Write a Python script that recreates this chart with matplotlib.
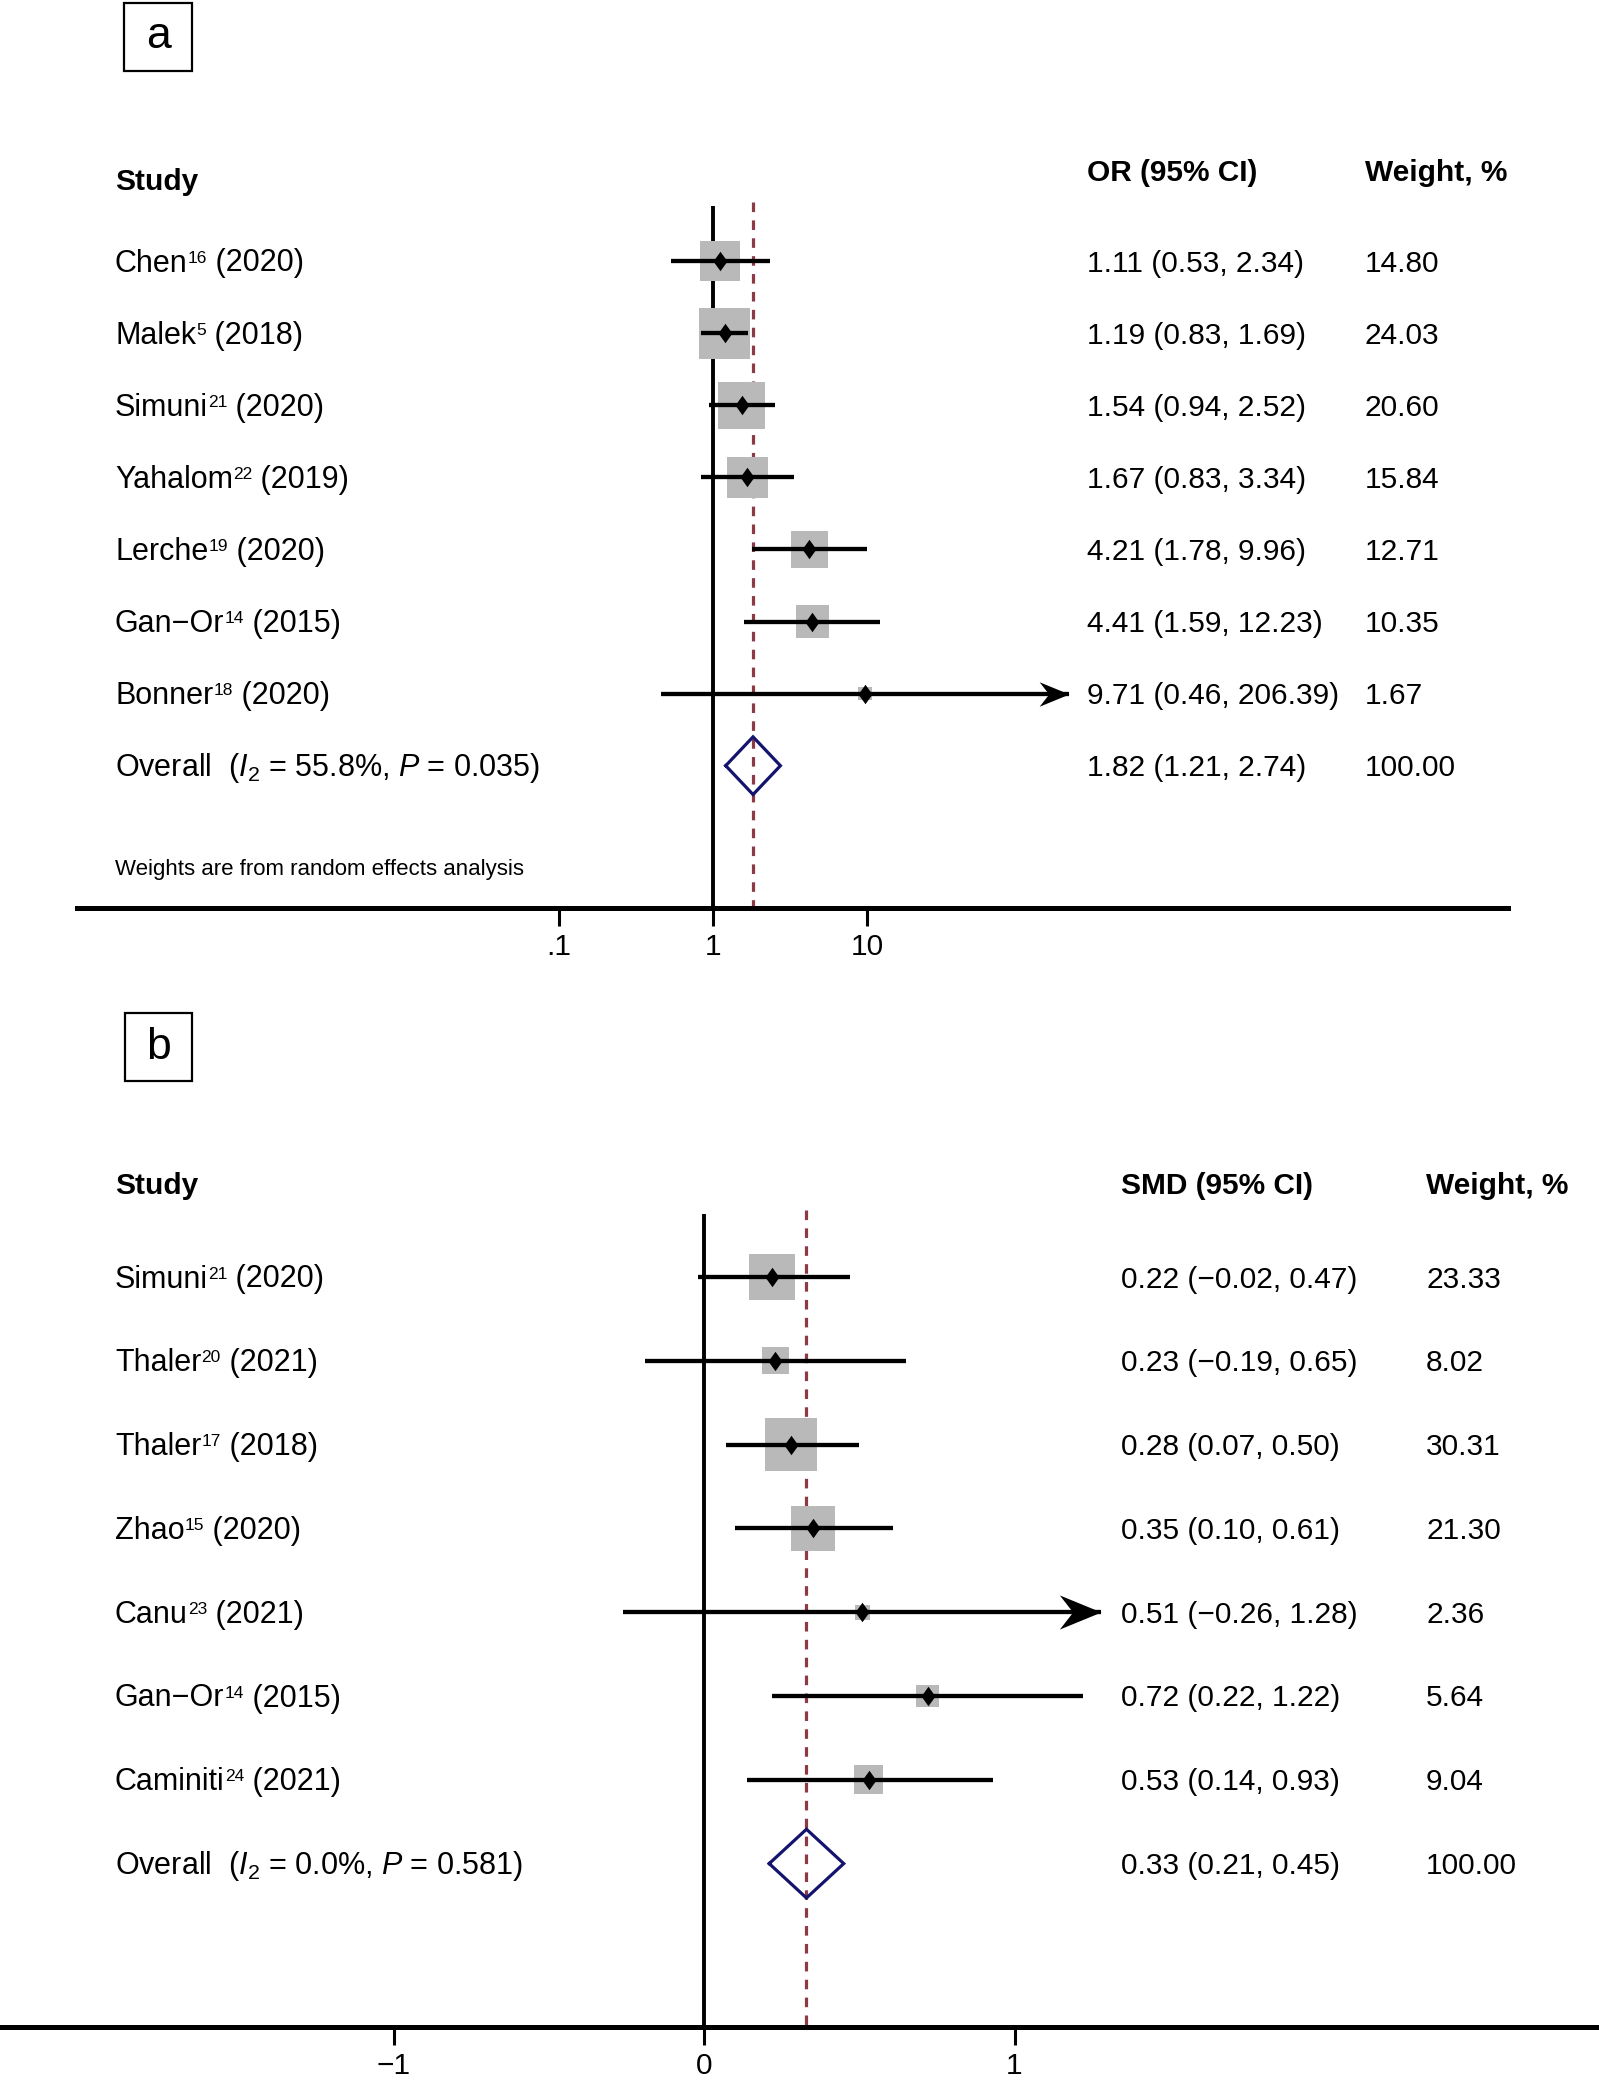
import numpy as np
import matplotlib
matplotlib.use("Agg")
import matplotlib.pyplot as plt
from matplotlib.path import Path
from matplotlib.patches import Rectangle
from matplotlib.ticker import NullLocator

plt.rcParams["font.family"] = ["Liberation Sans", "DejaVu Sans"]
plt.rcParams["mathtext.fontset"] = "custom"
plt.rcParams["mathtext.rm"] = "Liberation Sans"
plt.rcParams["mathtext.it"] = "Liberation Sans:italic"
plt.rcParams["mathtext.bf"] = "Liberation Sans:bold"

# panel a: odds ratios
studies_a = ["Chen", "Malek", "Simuni", "Yahalom", "Lerche", "Gan\u2212Or", "Bonner"]
refs_a = ["16", "5", "21", "22", "19", "14", "18"]
years_a = [2020, 2018, 2020, 2019, 2020, 2015, 2020]
or_a = [1.11, 1.19, 1.54, 1.67, 4.21, 4.41, 9.71]
lo_a = [0.53, 0.83, 0.94, 0.83, 1.78, 1.59, 0.46]
hi_a = [2.34, 1.69, 2.52, 3.34, 9.96, 12.23, 206.39]
weight_a = [14.80, 24.03, 20.60, 15.84, 12.71, 10.35, 1.67]
arrow_a = [False, False, False, False, False, False, True]
overall_a = [1.82, 1.21, 2.74]
i2_a, p_a = 55.8, 0.035

# panel b: standardised mean differences
studies_b = ["Simuni", "Thaler", "Thaler", "Zhao", "Canu", "Gan\u2212Or", "Caminiti"]
refs_b = ["21", "20", "17", "15", "23", "14", "24"]
years_b = [2020, 2021, 2018, 2020, 2021, 2015, 2021]
smd_b = [0.22, 0.23, 0.28, 0.35, 0.51, 0.72, 0.53]
lo_b = [-0.02, -0.19, 0.07, 0.10, -0.26, 0.22, 0.14]
hi_b = [0.47, 0.65, 0.50, 0.61, 1.28, 1.22, 0.93]
weight_b = [23.33, 8.02, 30.31, 21.30, 2.36, 5.64, 9.04]
arrow_b = [False, False, False, False, True, False, False]
overall_b = [0.33, 0.21, 0.45]
i2_b, p_b = 0.0, 0.581

W, H, DPI = 1599, 2080, 100
FS = 21.5
FS_LABEL = 22
SUP = 12.5
SQUARE = "#B9B9B9"
DASH = "#8B3A46"
NAVY = "#14146E"

EST = Path([(0, 1), (0.72, 0), (0, -1), (-0.72, 0), (0, 1)],
           [Path.MOVETO, Path.LINETO, Path.LINETO, Path.LINETO, Path.CLOSEPOLY])
ARROW = Path([(0, 0), (-1, 0.41), (-0.68, 0), (-1, -0.41), (0, 0)],
             [Path.MOVETO, Path.LINETO, Path.LINETO, Path.LINETO, Path.CLOSEPOLY])

fig = plt.figure(figsize=(W / DPI, H / DPI), dpi=DPI)


def num(v):
    return f"{v:.2f}".replace("-", "\u2212")


def study_label(ax, x, y, name, ref, year):
    tr = ax.get_yaxis_transform()
    t = ax.text(x, y, name, transform=tr, fontsize=FS_LABEL, va="center")
    s = ax.annotate(ref, xy=(1, 1), xycoords=t, xytext=(0, -1.5),
                    textcoords="offset points", fontsize=SUP, va="top", ha="left")
    ax.annotate(f" ({year})", xy=(1, 0), xycoords=(s, t), fontsize=FS_LABEL,
                va="bottom", ha="left")


def draw_panel(lay, names, refs, years, est, lo, hi, wt, arrows, overall, i2, p,
               measure, ticks, ticklabels, note=None):
    top, bot, row0, step = lay["top"], lay["bot"], lay["row0"], lay["step"]
    r = lambda ypx: (ypx - row0) / step
    dy = 2.5 / step  # text sits a touch below the row centre

    ax = fig.add_axes([0, 1 - bot / H, 1, (bot - top) / H])
    ax.set_xscale(lay["scale"])
    ax.set_xlim(*lay["xlim"])
    ax.set_ylim(r(bot), r(top))
    ax.patch.set_visible(False)
    for s in ["top", "left", "right"]:
        ax.spines[s].set_visible(False)
    y_axis = r(lay["axis"])
    ax.spines["bottom"].set_position(("data", y_axis))
    ax.spines["bottom"].set_bounds(*lay["bounds"])
    ax.spines["bottom"].set_linewidth(3.6)
    ax.set_yticks([])
    ax.set_xticks(ticks, ticklabels)
    ax.xaxis.set_minor_locator(NullLocator())
    ax.tick_params(axis="x", direction="out", length=13, width=2.2, pad=5, labelsize=FS)

    est, lo, hi, wt = map(np.array, (est, lo, hi, wt))
    arrows = np.array(arrows)
    y = np.arange(len(est))

    ax.vlines(lay["null"], r(lay["vtop"]), y_axis, color="black", lw=2.8, zorder=1)
    ax.vlines(overall[0], r(lay["vtop"]) - 0.05, y_axis, colors=DASH, lw=2.3,
              linestyles=(0, (3, 2.6)), zorder=2)

    side = lay["sq"] * np.sqrt(wt) * 72 / DPI
    ax.scatter(est, y, s=side ** 2, marker="s", c=SQUARE, linewidths=0, zorder=3)
    ax.hlines(y, lo, hi, color="black", lw=3.1, zorder=4)
    ax.plot(est, y, ls="none", marker=EST, ms=14, color="black", mew=0, zorder=5)
    ax.plot(hi[arrows], y[arrows], ls="none", marker=ARROW, ms=lay["arrow"],
            color="black", mew=0, zorder=5)

    yo = len(est)
    h = lay["dh"]
    ax.plot([overall[1], overall[0], overall[2], overall[0], overall[1]],
            [yo, yo - h, yo, yo + h, yo], color=NAVY, lw=2.3, zorder=5,
            solid_joinstyle="miter")

    tr = ax.get_yaxis_transform()
    xl, xc, xw = [c / W for c in lay["cols"]]
    ax.text(xl, r(lay["head_study"]), "Study", transform=tr, fontsize=FS,
            fontweight="bold", va="center")
    ax.text(xc, r(lay["head"]), f"{measure} (95% CI)", transform=tr, fontsize=FS,
            fontweight="bold", va="center")
    ax.text(xw, r(lay["head"]), "Weight, %", transform=tr, fontsize=FS,
            fontweight="bold", va="center")
    for i in range(len(est)):
        study_label(ax, xl, i + dy, names[i], refs[i], years[i])
        ax.text(xc, i + dy, f"{num(est[i])} ({num(lo[i])}, {num(hi[i])})",
                transform=tr, fontsize=FS, va="center")
        ax.text(xw, i + dy, f"{wt[i]:.2f}", transform=tr, fontsize=FS, va="center")
    ax.text(xl, yo + dy, r"Overall  ($\mathit{I}_{\mathrm{2}}$ = " + f"{i2:.1f}%, "
            + r"$\mathit{P}$ = " + f"{p:.3f})", transform=tr, fontsize=FS_LABEL,
            va="center")
    ax.text(xc, yo + dy, f"{num(overall[0])} ({num(overall[1])}, {num(overall[2])})",
            transform=tr, fontsize=FS, va="center")
    ax.text(xw, yo + dy, f"{100:.2f}", transform=tr, fontsize=FS, va="center")
    if note:
        ax.text(xl, r(lay["note"]), note, transform=tr, fontsize=16, va="center")

    bx0, by0, bx1, by1 = lay["box"]
    fig.add_artist(Rectangle((bx0 / W, 1 - by1 / H), (bx1 - bx0) / W, (by1 - by0) / H,
                             transform=fig.transFigure, fill=False, lw=1.6, ec="black"))
    fig.text((bx0 + bx1) / 2 / W, 1 - lay["letter_base"] / H, lay["letter"],
             ha="center", va="baseline", fontsize=32)
    return ax


# pixel layout of each panel
x1_a, dec_a = 713, 154
lay_a = dict(top=0, bot=1000, row0=261, step=72.1, scale="log",
             xlim=(10 ** (-x1_a / dec_a), 10 ** ((W - x1_a) / dec_a)),
             bounds=(10 ** ((77 - x1_a) / dec_a), 10 ** ((1508 - x1_a) / dec_a)),
             axis=908, vtop=206, null=1, sq=10.4, arrow=43, dh=0.4,
             cols=(115, 1087, 1365), head_study=182, head=173, note=870,
             box=(124, 3, 192, 71), letter="a", letter_base=48)

x0_b, unit_b = 704, 310.5
lay_b = dict(top=1000, bot=H, row0=1277, step=83.8, scale="linear",
             xlim=(-x0_b / unit_b, (W - x0_b) / unit_b),
             bounds=(-x0_b / unit_b, (W - x0_b) / unit_b),
             axis=2027, vtop=1214, null=0, sq=9.6, arrow=60, dh=0.41,
             cols=(115, 1121, 1426), head_study=1186, head=1186, note=None,
             box=(125, 1013, 192, 1081), letter="b", letter_base=1059)

draw_panel(lay_a, studies_a, refs_a, years_a, or_a, lo_a, hi_a, weight_a, arrow_a,
           overall_a, i2_a, p_a, "OR", [0.1, 1, 10], [".1", "1", "10"],
           note="Weights are from random effects analysis")
draw_panel(lay_b, studies_b, refs_b, years_b, smd_b, lo_b, hi_b, weight_b, arrow_b,
           overall_b, i2_b, p_b, "SMD", [-1, 0, 1], ["\u22121", "0", "1"])

fig.savefig("out.png", dpi=DPI, facecolor="white")
